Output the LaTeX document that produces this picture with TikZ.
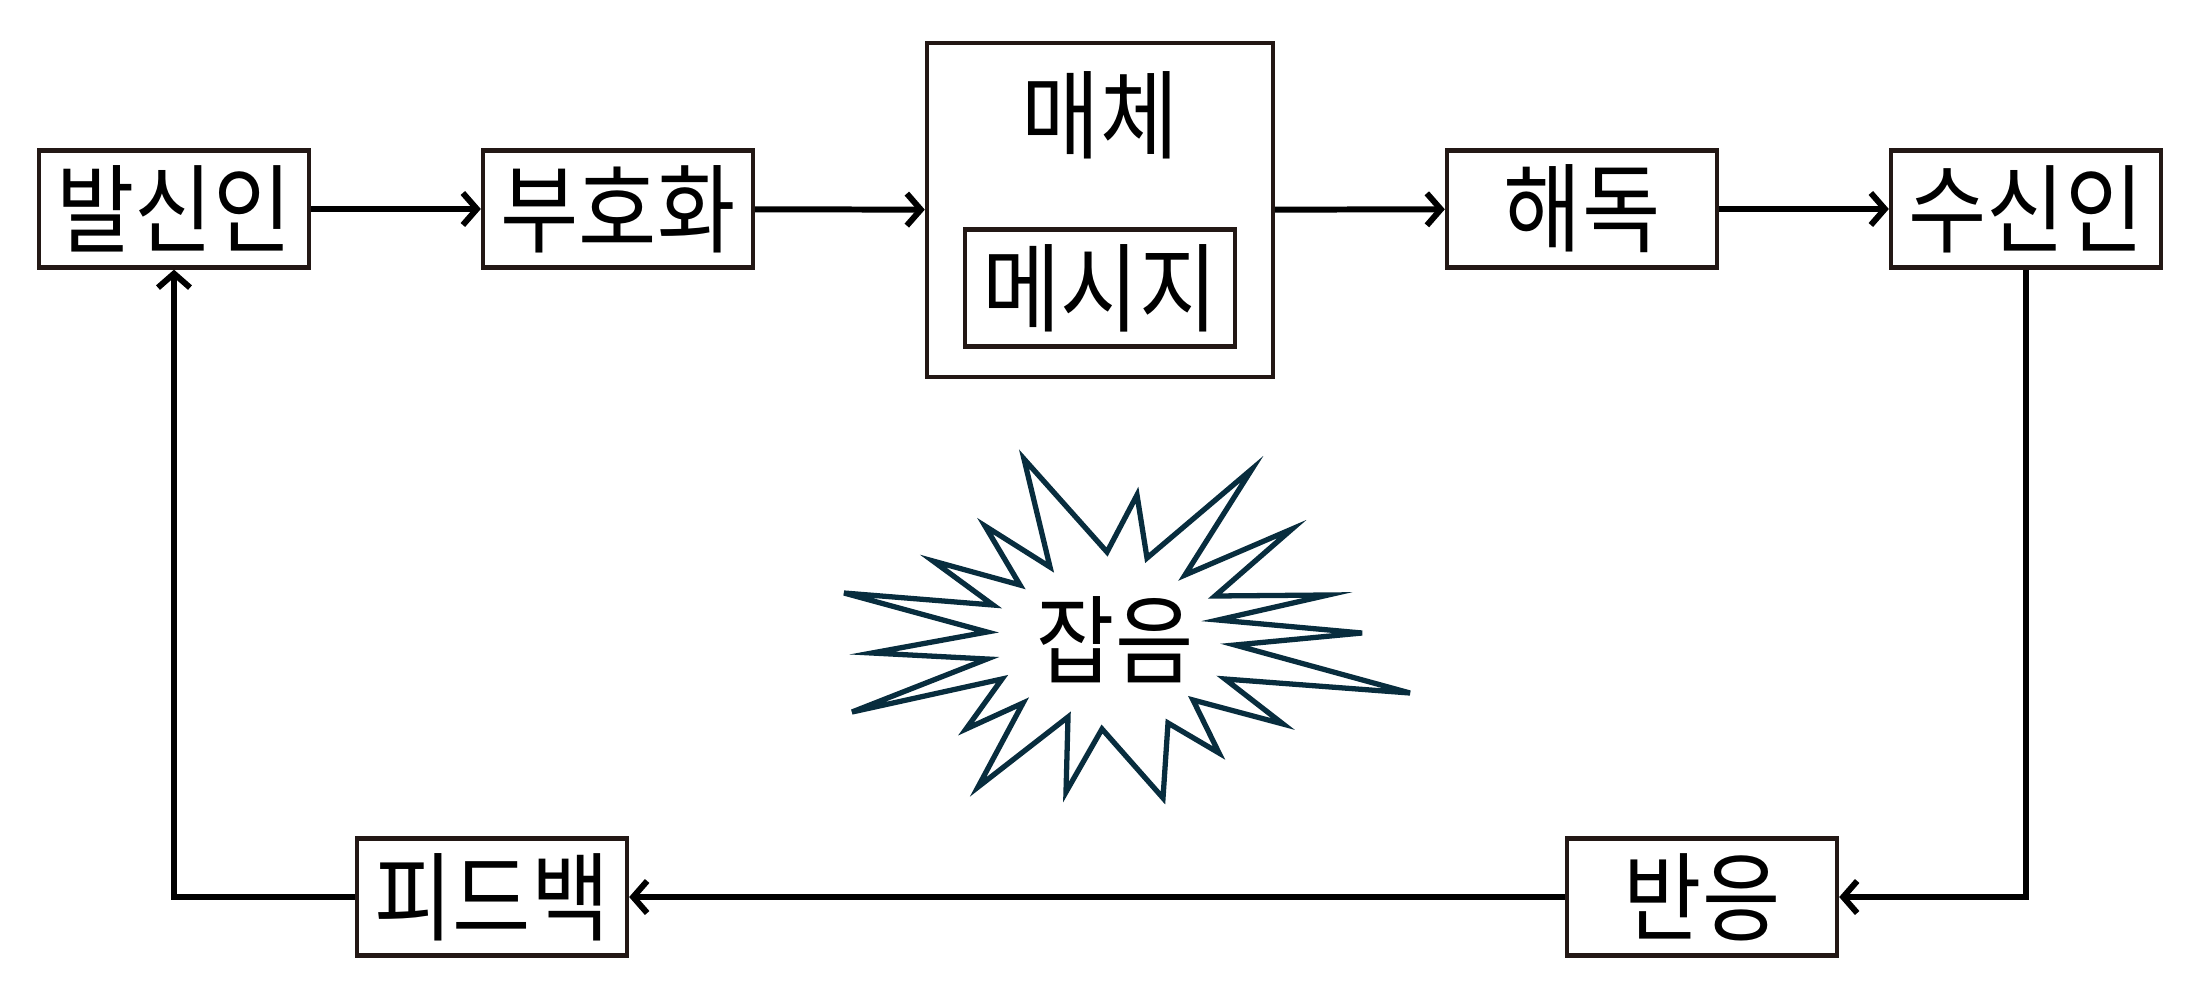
\documentclass[tikz,border=0pt]{standalone}
\usepackage{fontspec}
\setmainfont[FakeStretch=0.88]{Noto Sans CJK KR}
\usetikzlibrary{arrows.meta}
\definecolor{boxline}{RGB}{35,24,21}
\definecolor{burstline}{RGB}{8,45,62}

\begin{document}
\begin{tikzpicture}[x=0.01cm, y=-0.01cm,
	label font/.style={font=\fontsize{27.5}{27.5}\selectfont},
	box/.style={draw=boxline, line width=1.2pt, minimum width=2.7cm, minimum height=1.17cm, inner sep=0pt, label font},
	flow/.style={draw=black, line width=1.7pt, -{Straight Barb[length=1.4mm, width=3.2mm]}}]
	\useasboundingbox (0,0) rectangle (2200,1000);

	% top row
	\node[box] (sender) at (174,209) {발신인};
	\node[box] (encoder) at (618,209) {부호화};
	\node[box, minimum width=3.46cm, minimum height=3.34cm] (medium) at (1100,210) {};
	\node[label font] (mediumname) at (1100,115) {매체};
	\node[box] (message) at (1100,288) {메시지};
	\node[box] (decoder) at (1582,209) {해독};
	\node[box] (receiver) at (2026,209) {수신인};

	% bottom row
	\node[box] (feedback) at (492,897) {피드백};
	\node[box] (response) at (1702,897) {반응};

	% noise
	\draw[draw=burstline, line width=1.5pt, line join=miter, fill=white]
		(1024,459) -- (1107,552) -- (1137,495) -- (1147,558) -- (1252,469) -- (1185,575)
		-- (1292,529) -- (1215,596) -- (1328,595) -- (1218,620) -- (1362,633) -- (1235,645)
		-- (1410,693) -- (1225,679) -- (1283,724) -- (1193,700) -- (1219,753) -- (1168,723)
		-- (1163,798) -- (1102,729) -- (1066,792) -- (1068,717) -- (978,787) -- (1023,703)
		-- (966,729) -- (1002,679) -- (852,712) -- (987,659) -- (872,653) -- (987,632)
		-- (844,593) -- (993,605) -- (933,561) -- (1020,585) -- (985,526) -- (1050,567) -- cycle;
	\node[label font] (noise) at (1115,640) {잡음};

	\draw[flow] (sender) -- (encoder);
	\draw[flow] (encoder) -- (medium);
	\draw[flow] (medium) -- (decoder);
	\draw[flow] (decoder) -- (receiver);
	\draw[flow] (receiver.south) |- (response.east);
	\draw[flow] (response) -- (feedback);
	\draw[flow] (feedback.west) -| (sender.south);
\end{tikzpicture}
\end{document}
